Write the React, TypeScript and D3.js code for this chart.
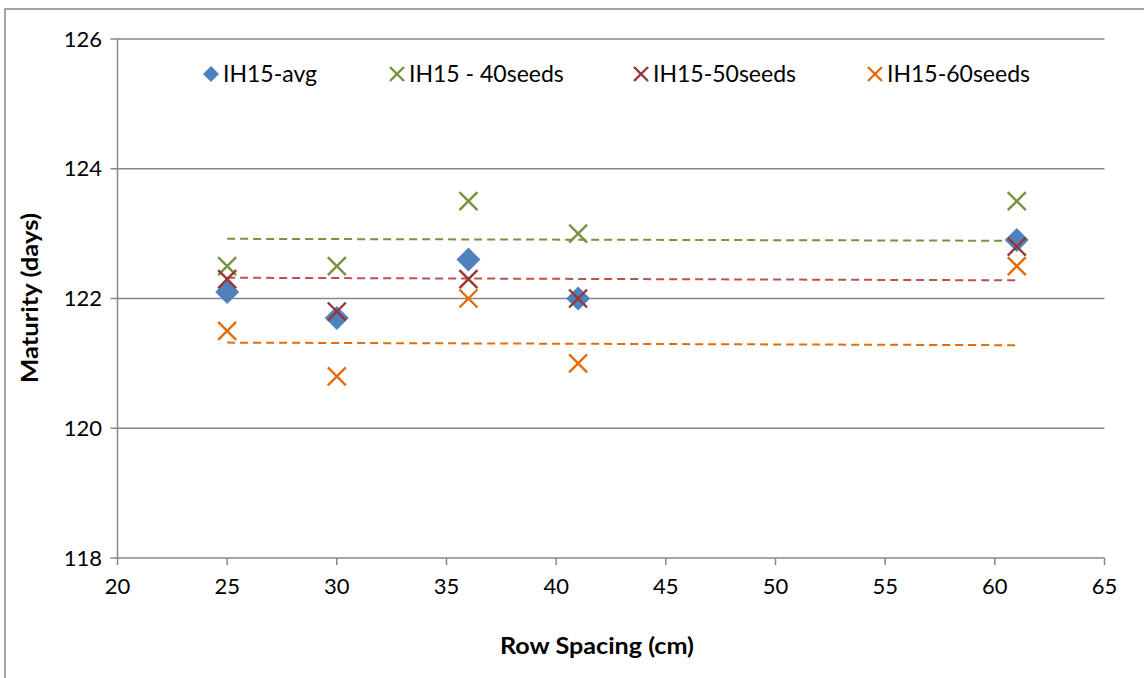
import React from "react";
import * as d3 from "d3";

const rowSpacing = [25, 30, 36, 41, 61];
const avgValues = [122.1, 121.7, 122.6, 122.0, 122.9];
const seeds40 = [122.5, 122.5, 123.5, 123.0, 123.5];
const seeds50 = [122.3, 121.8, 122.3, 122.0, 122.8];
const seeds60 = [121.5, 120.8, 122.0, 121.0, 122.5];
// trendline endpoints [at x=25, at x=61]
const trendX = [25, 61];
const trend40 = [122.92, 122.89];
const trend50 = [122.32, 122.28];
const trend60 = [121.32, 121.28];
const xTicks = [20, 25, 30, 35, 40, 45, 50, 55, 60, 65];
const yTicks = [118, 120, 122, 124, 126];
const legendLabels = ["IH15-avg", "IH15 - 40seeds", "IH15-50seeds", "IH15-60seeds"];

const FONT = "Lato, 'Open Sans', sans-serif";
const BLUE = "#4F81BD";
const GREEN = "#77933C";
const RED = "#953735";
const ORANGE = "#E46C0A";
const GRID = "#878787";

export default function App() {
  const x = d3.scaleLinear().domain([20, 65]).range([117.5, 1104.5]);
  const y = d3.scaleLinear().domain([118, 126]).range([558, 39]);
  const line = d3
    .line<[number, number]>()
    .x((d) => x(d[0]))
    .y((d) => y(d[1]));

  const diamond = (cx: number, cy: number, r: number) =>
    `M${cx},${cy - r}L${cx + r},${cy}L${cx},${cy + r}L${cx - r},${cy}Z`;
  const cross = (cx: number, cy: number, r: number, color: string, key: string) => (
    <g key={key} stroke={color} strokeWidth={2.4}>
      <line x1={cx - r} y1={cy - r} x2={cx + r} y2={cy + r} />
      <line x1={cx - r} y1={cy + r} x2={cx + r} y2={cy - r} />
    </g>
  );

  const xSeries = [
    { vals: seeds40, color: GREEN, name: "g" },
    { vals: seeds50, color: RED, name: "r" },
    { vals: seeds60, color: ORANGE, name: "o" },
  ];
  const trends = [
    { vals: trend40, color: GREEN },
    { vals: trend50, color: "#C0504D" },
    { vals: trend60, color: ORANGE },
  ];

  const legendX = [211, 397, 641, 875];
  const legendColors = [BLUE, GREEN, RED, ORANGE];

  return (
    <svg width={1144} height={678} style={{ position: "absolute", left: 0, top: 0 }}>
      <rect x={0} y={0} width={1144} height={678} fill="#fff" />
      <rect x={5} y={9} width={1200} height={700} fill="none" stroke={GRID} strokeWidth={1.5} />
      {/* gridlines */}
      {yTicks.map((t) => (
        <line key={"g" + t} x1={x(20) - 7} x2={x(65)} y1={y(t)} y2={y(t)} stroke={GRID} strokeWidth={1.5} />
      ))}
      {/* y axis */}
      <line x1={x(20)} x2={x(20)} y1={y(126)} y2={y(118)} stroke={GRID} strokeWidth={1.5} />
      {/* x ticks */}
      {xTicks.map((t) => (
        <line key={"xt" + t} x1={x(t)} x2={x(t)} y1={y(118)} y2={y(118) + 7} stroke={GRID} strokeWidth={1.5} />
      ))}
      {/* tick labels */}
      {yTicks.map((t) => (
        <text key={"yl" + t} x={102} y={y(t)} dy="0.35em" textAnchor="end" fontFamily={FONT} fontSize={22} fill="#000">
          {t}
        </text>
      ))}
      {xTicks.map((t) => (
        <text key={"xl" + t} x={x(t)} y={586} dy="0.35em" textAnchor="middle" fontFamily={FONT} fontSize={22} fill="#000">
          {t}
        </text>
      ))}
      {/* axis titles */}
      <text
        x={597}
        y={646}
        dy="0.35em"
        textAnchor="middle"
        fontFamily={FONT}
        fontSize={23}
        fontWeight="bold"
        fill="#000"
        textLength={194}
        lengthAdjust="spacingAndGlyphs"
      >
        Row Spacing (cm)
      </text>
      <text
        transform={`translate(30,298) rotate(-90)`}
        dy="0.35em"
        textAnchor="middle"
        fontFamily={FONT}
        fontSize={23}
        fontWeight="bold"
        fill="#000"
        textLength={170}
        lengthAdjust="spacingAndGlyphs"
      >
        Maturity (days)
      </text>
      {/* trendlines */}
      {trends.map((tr, i) => (
        <path
          key={"tr" + i}
          d={line(trendX.map((xv, j) => [xv, tr.vals[j]] as [number, number])) || ""}
          fill="none"
          stroke={tr.color}
          strokeWidth={2}
          strokeDasharray="8,5"
        />
      ))}
      {/* avg diamonds */}
      {rowSpacing.map((xv, i) => (
        <path key={"d" + i} d={diamond(x(xv), y(avgValues[i]), 12)} fill={BLUE} />
      ))}
      {/* X markers */}
      {xSeries.map((s) => rowSpacing.map((xv, i) => cross(x(xv), y(s.vals[i]), 9, s.color, s.name + i)))}
      {/* legend */}
      {legendLabels.map((lab, i) => (
        <g key={"lg" + i}>
          {i === 0 ? (
            <path d={diamond(legendX[i], 74, 8)} fill={BLUE} />
          ) : (
            cross(legendX[i], 74, 7, legendColors[i], "lgx" + i)
          )}
          <text x={legendX[i] + 12} y={74} dy="0.35em" fontFamily={FONT} fontSize={23} fill="#000">
            {lab}
          </text>
        </g>
      ))}
    </svg>
  );
}
